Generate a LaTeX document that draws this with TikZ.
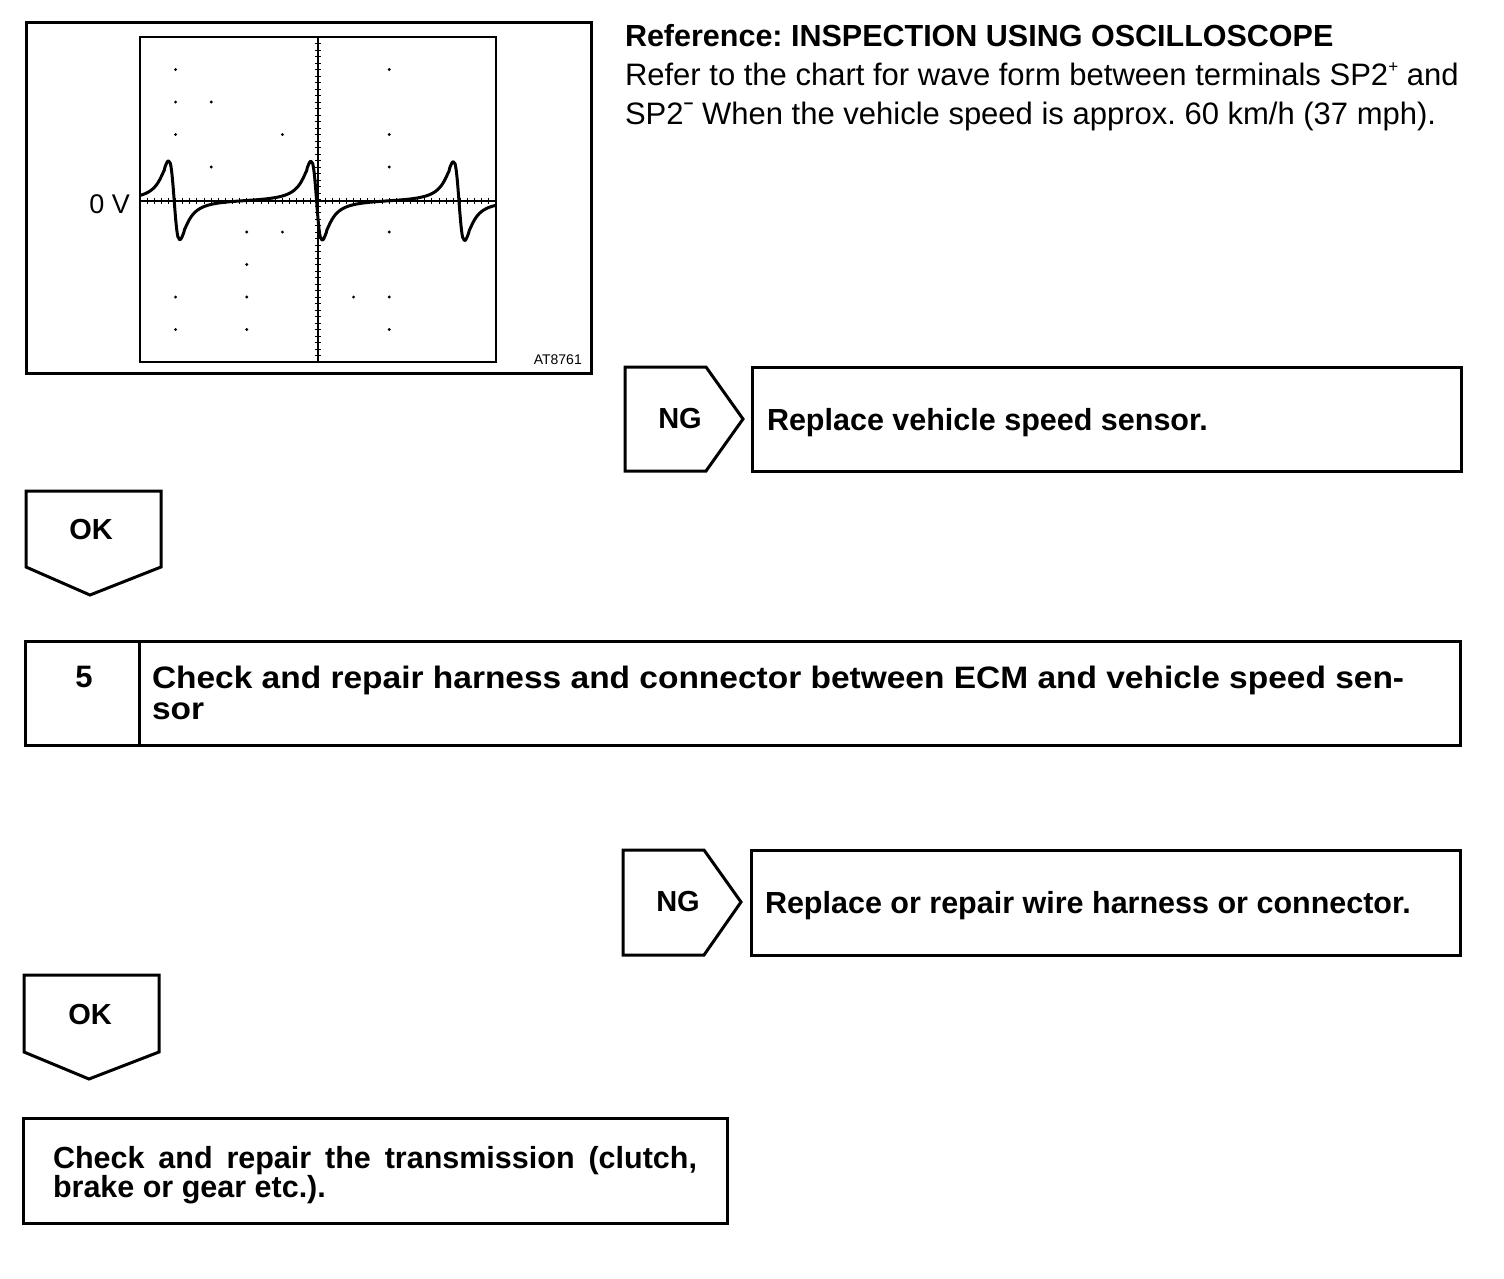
\documentclass[tikz,border=0pt]{standalone}
\usepackage{fontspec}
\setmainfont{Liberation Sans}
\newfontfamily\stepfont{Liberation Sans}[FakeStretch=1.08]
\newcommand{\supplus}{\raisebox{13pt}{\fontsize{17}{17}\selectfont +}}
\newcommand{\supminus}{\raisebox{15pt}{\fontsize{17}{17}\selectfont\bfseries\char"2212}}
\frenchspacing
\begin{document}
\begin{tikzpicture}[x=1pt,y=-1pt,
  frame/.style={draw=black,line width=3pt},
  thinline/.style={draw=black,line width=1.3pt},
  lbl/.style={inner sep=0pt,outer sep=0pt,font=\fontsize{31}{33}\selectfont},
  blbl/.style={inner sep=0pt,outer sep=0pt,font=\fontsize{30.5}{33}\selectfont\bfseries},
  steplbl/.style={inner sep=0pt,outer sep=0pt,font=\stepfont\fontsize{31}{33}\selectfont\bfseries},
  tag/.style={inner sep=0pt,outer sep=0pt,font=\fontsize{29}{31}\selectfont\bfseries},
  gdot/.style={fill=black},
  declare function={wf(\u)=-0.1257*\u/((\u*\u+0.0484)^1.5);}
]
\useasboundingbox (0,0) rectangle (1504,1278);

% ---------------- oscilloscope ----------------
\draw[frame] (26,22) rectangle (591,373);
\draw[thinline] (140,37) rectangle (496,362);
\draw[line width=1.8pt] (140,200.7) -- (496,200.7);
\draw[line width=1.4pt] (318,37) -- (318,362);
\foreach \i in {1,...,49} \draw[line width=1pt] ({140+\i*7.12},197.5) -- ++(0,6.5);
\foreach \i in {1,...,49} \draw[line width=1pt] (315,{37+\i*6.5}) -- ++(6,0);
\foreach \gx/\gy in {1/1,7/1,1/2,2/2,1/3,4/3,7/3,2/4,7/4,3/6,4/6,7/6,3/7,1/8,3/8,6/8,7/8,1/9,3/9,7/9}
  \fill[gdot] ({140+35.6*\gx},{37+32.5*\gy}) circle (1.6pt);
\draw[line width=3pt,line join=round]
  plot[domain=0:10,samples=601] ({140+35.6*\x},{200.7-40*(wf(\x-0.96)+wf(\x-4.96)+wf(\x-8.96))});
\node[inner sep=0pt,font=\fontsize{27}{29}\selectfont,anchor=east] (zerov) at (130,204) {0 V};
\node[inner sep=0pt,font=\fontsize{14}{16}\selectfont,anchor=base east] (code) at (582,364) {AT8761};

% ---------------- reference text ----------------
\node[blbl,anchor=base west] (reftitle) at (625,46) {Reference: INSPECTION USING OSCILLOSCOPE};
\node[lbl,anchor=base west] (refa) at (625,85) {Refer to the chart for wave form between terminals SP2\supplus{} and};
\node[lbl,anchor=base west] (refb) at (625,124) {SP2\supminus{} When the vehicle speed is approx. 60 km/h (37 mph).};

% ---------------- NG 1 ----------------
\draw[frame] (625,367) -- (706,367) -- (743,419) -- (706,471) -- (625,471) -- cycle;
\node[tag] (ngone) at (680,419) {NG};
\draw[frame] (752,367) rectangle (1461,471);
\node[blbl,anchor=base west] (resone) at (767,430) {Replace vehicle speed sensor.};

% ---------------- OK 1 ----------------
\draw[frame] (26,491) -- (161,491) -- (161,567) -- (90,595) -- (26,567) -- cycle;
\node[tag] (okone) at (91,530) {OK};

% ---------------- step 5 ----------------
\draw[frame] (25,641) rectangle (1460,745);
\draw[frame] (139,641) -- (139,745);
\node[steplbl,font=\fontsize{31}{33}\selectfont\bfseries] (stepnum) at (84,677) {5};
\node[steplbl,anchor=base west] (stepa) at (152,688) {Check and repair harness and connector between ECM and vehicle speed sen-};
\node[steplbl,anchor=base west] (stepb) at (152,719) {sor};

% ---------------- NG 2 ----------------
\draw[frame] (623,850) -- (704,850) -- (741,902) -- (704,955) -- (623,955) -- cycle;
\node[tag] (ngtwo) at (678,902) {NG};
\draw[frame] (751,850) rectangle (1460,955);
\node[blbl,anchor=base west] (restwo) at (765,913) {Replace or repair wire harness or connector.};

% ---------------- OK 2 ----------------
\draw[frame] (24,975) -- (159,975) -- (159,1052) -- (89,1079) -- (24,1052) -- cycle;
\node[tag] (oktwo) at (90,1014) {OK};

% ---------------- final ----------------
\draw[frame] (23,1118) rectangle (727,1223);
\node[blbl,anchor=base west] (fina) at (53,1168) {\makebox[644pt][s]{Check and repair the transmission (clutch,}};
\node[blbl,anchor=base west] (finb) at (53,1197) {brake or gear etc.).};
\end{tikzpicture}
\end{document}
